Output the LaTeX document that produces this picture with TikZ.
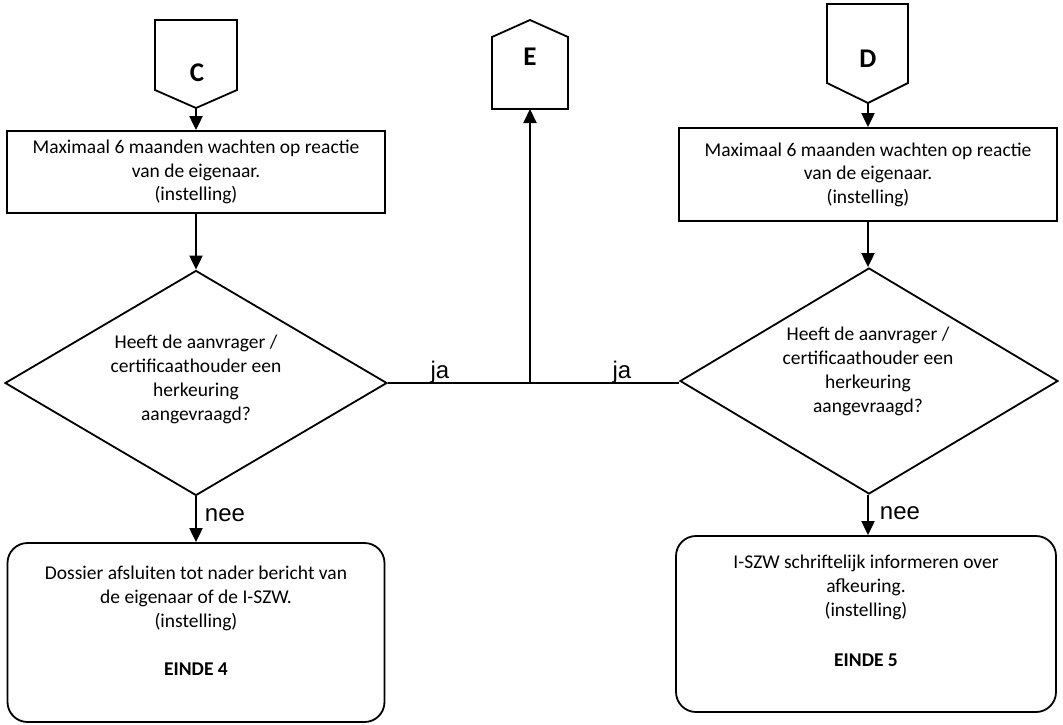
\documentclass[tikz,border=0pt]{standalone}
\usepackage{fontspec}
\setmainfont{Carlito}
\newfontfamily\arialf{Liberation Sans}
\usetikzlibrary{shapes.geometric,arrows.meta}
\begin{document}
\begin{tikzpicture}[x=1pt,y=-1pt,
  boxstyle/.style={draw, line width=1.8pt, inner sep=0pt, align=center, font=\fontsize{19.5}{23.5}\selectfont},
  endbox/.style={draw, line width=1.8pt, inner sep=0pt, rounded corners=20pt},
  dia/.style={draw, diamond, line width=1.8pt, inner sep=0pt},
  txt/.style={align=center, inner sep=0pt, font=\fontsize{19.5}{24}\selectfont},
  lab/.style={inner sep=0pt, font=\arialf\fontsize{24}{24}\selectfont},
  conn/.style={line width=2pt, -{Triangle[length=14pt,width=13pt]}},
  plain/.style={line width=2pt},
  pent/.style={draw, line width=1.8pt, line join=miter},
  letter/.style={inner sep=0pt, font=\bfseries\fontsize{27}{27}\selectfont}
]
\useasboundingbox (0,0) rectangle (1063,725);

% connector C
\draw[pent] (155,20) -- (237,20) -- (237,90) -- (196,108) -- (155,90) -- cycle;
\coordinate (ctip) at (196,108);
\node[letter] (lc) at (197,73) {C};

% connector E
\draw[pent] (492,37) -- (530,20) -- (568,37) -- (568,109) -- (492,109) -- cycle;
\coordinate (ebase) at (530,109);
\node[letter] (le) at (530,57) {E};

% connector D
\draw[pent] (827,4) -- (908,4) -- (908,83) -- (868,103) -- (827,83) -- cycle;
\coordinate (dtip) at (868,103);
\node[letter] (ld) at (868,59) {D};

% left column
\node[boxstyle, minimum width=378pt, minimum height=82pt] (b1) at (196,172)
  {Maximaal 6 maanden wachten op reactie\\van de eigenaar.\\(instelling)};
\node[dia, minimum width=382pt, minimum height=225pt] (d1) at (196,383) {};
\node[txt] (t1) at (196,379) {Heeft de aanvrager /\\certificaathouder een\\herkeuring\\aangevraagd?};
\node[endbox, minimum width=377pt, minimum height=179pt] (b3) at (196,632.5) {};
\node[txt] (t3) at (196,621) {Dossier afsluiten tot nader bericht van\\de eigenaar of de I-SZW.\\(instelling)\\[24pt]\textbf{EINDE 4}};

% right column
\node[boxstyle, minimum width=378pt, minimum height=93pt] (b2) at (868,174.5)
  {Maximaal 6 maanden wachten op reactie\\van de eigenaar.\\(instelling)};
\node[dia, minimum width=378pt, minimum height=226pt] (d2) at (869,381) {};
\node[txt] (t2) at (868,371) {Heeft de aanvrager /\\certificaathouder een\\herkeuring\\aangevraagd?};
\node[endbox, minimum width=380pt, minimum height=176pt] (b4) at (866,624) {};
\node[txt] (t4) at (866,611) {I-SZW schriftelijk informeren over\\afkeuring.\\(instelling)\\[26pt]\textbf{EINDE 5}};

% connectors
\draw[conn] (ctip) -- (ctip |- b1.north);
\draw[conn] (d1.north |- b1.south) -- (d1.north);
\draw[conn] (d1.south) -- (d1.south |- b3.north);
\draw[conn] (dtip) -- (dtip |- b2.north);
\draw[conn] (868,0 |- b2.south) -- (868,0 |- d2.north);
\draw[conn] (868,0 |- d2.south) -- (868,0 |- b4.north);
\draw[plain] (d1.east) -- (d1.east -| d2.west);
\coordinate (j) at (ebase |- d1.east);
\draw[conn] (j) -- (ebase);

% labels
\node[lab] (ja1) at (440,372) {ja};
\node[lab] (ja2) at (622,372) {ja};
\node[lab] (nee1) at (225,515) {nee};
\node[lab] (nee2) at (900,513) {nee};
\end{tikzpicture}
\end{document}
